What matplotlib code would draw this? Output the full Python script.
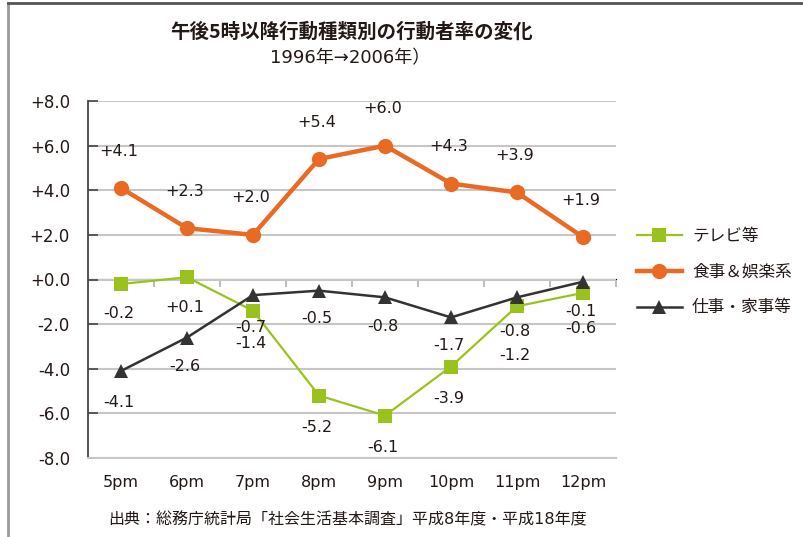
import matplotlib
matplotlib.use("Agg")
import matplotlib.pyplot as plt
from matplotlib.lines import Line2D

plt.rcParams['font.family'] = ['Noto Sans CJK JP', 'DejaVu Sans']
NUM_FONT = ['DejaVu Sans', 'Noto Sans CJK JP']

# --- data -------------------------------------------------------------
hours = ["5pm", "6pm", "7pm", "8pm", "9pm", "10pm", "11pm", "12pm"]
tv = [-0.2, 0.1, -1.4, -5.2, -6.1, -3.9, -1.2, -0.6]
meals_leisure = [4.1, 2.3, 2.0, 5.4, 6.0, 4.3, 3.9, 1.9]
work_house = [-4.1, -2.6, -0.7, -0.5, -0.8, -1.7, -0.8, -0.1]
series_names = ["テレビ等", "食事＆娯楽系", "仕事・家事等"]
y_ticks = [-8, -6, -4, -2, 0, 2, 4, 6, 8]

title = "午後5時以降行動種類別の行動者率の変化"
subtitle = "1996年→2006年）"
source = "出典：総務庁統計局「社会生活基本調査」平成8年度・平成18年度"

# --- styles -----------------------------------------------------------
TXT = "#231815"
GREEN = "#99c31c"
ORANGE = "#ea6a24"
DARK = "#333333"
GRID = "#c6c6c6"

W, H = 804, 537
fig = plt.figure(figsize=(W / 100, H / 100), dpi=100)
fig.patch.set_facecolor("white")

ax = fig.add_axes([88 / W, 1 - 458 / H, (616 - 88) / W, (458 - 101) / H])
x = list(range(len(hours)))

ax.set_xlim(-0.5, len(hours) - 0.5)
ax.set_ylim(-8, 8)

# gridlines / spines
ax.set_yticks(y_ticks)
ax.set_yticklabels([f"{v:+.1f}" for v in y_ticks], color=TXT, fontsize=12,
                   family=NUM_FONT)
ax.yaxis.grid(True, color=GRID, linewidth=1.5)
ax.set_axisbelow(True)
for s in ("top", "right"):
    ax.spines[s].set_visible(False)
ax.spines["left"].set_color("#444444")
ax.spines["left"].set_linewidth(1.3)
ax.spines["bottom"].set_color(GRID)
ax.spines["bottom"].set_linewidth(1.5)
ax.tick_params(axis="y", direction="in", length=7, width=1.2, color="#444444", pad=13)

ax.set_xticks(x)
ax.set_xticklabels(hours, color=TXT, fontsize=11.5, family=NUM_FONT)
ax.tick_params(axis="x", length=0, pad=12)

# category divider ticks on the zero line
zero_axis = ax.secondary_xaxis(0.5)
zero_axis.set_xticks([i + 0.5 for i in x])
zero_axis.set_xticklabels([])
zero_axis.tick_params(direction="in", length=6, width=1.2, color="#b0b0b0")
zero_axis.spines["bottom"].set_visible(False)

# series
ax.plot(x, tv, color=GREEN, linewidth=1.6, marker="s", markersize=9.5,
        markeredgewidth=0, label=series_names[0], zorder=3)
ax.plot(x, meals_leisure, color=ORANGE, linewidth=3.2, marker="o", markersize=11,
        markeredgewidth=0, label=series_names[1], zorder=4)
ax.plot(x, work_house, color=DARK, linewidth=1.8, marker="^", markersize=10.5,
        markeredgewidth=0, label=series_names[2], zorder=5)

# value labels (offsets in pixels)
px = 0.72
def label(xs, ys, offsets):
    for xi, yi, off in zip(xs, ys, offsets):
        ax.annotate(f"{yi:+.1f}", (xi, yi), xytext=(-2 * px, off * px),
                    textcoords="offset points", ha="center", va="center",
                    fontsize=11.5, color=TXT, family=NUM_FONT, zorder=6)

label(x, meals_leisure, [37] * 8)
label(x, tv, [-30, -30, -33, -32, -32, -32, -49, -36])
label(x, work_house, [-32, -29, -32, -28, -29, -28, -34, -30])

# legend
ax.legend(loc="upper left", bbox_to_anchor=(637 / W, 1 - 228 / H),
          bbox_transform=fig.transFigure, frameon=False, fontsize=12,
          handlelength=2.7, handletextpad=0.6, labelspacing=1.12,
          borderpad=0, borderaxespad=0, numpoints=1, labelcolor=TXT)

# titles and source note
fig.text(352 / W, 1 - 32 / H, title, ha="center", va="center",
         fontsize=14, fontweight="bold", color=TXT)
fig.text(350 / W, 1 - 58 / H, subtitle, ha="center", va="center",
         fontsize=13, color=TXT, family=NUM_FONT)
fig.text(108 / W, 1 - 520 / H, source, ha="left", va="center",
         fontsize=11.5, color=TXT, family=NUM_FONT)

# frame lines
fig.add_artist(Line2D([8 / W, 8 / W], [0, 1 - 3 / H], transform=fig.transFigure,
                      color="#9a9a9a", linewidth=2))
fig.add_artist(Line2D([8 / W, 1], [1 - 3 / H, 1 - 3 / H], transform=fig.transFigure,
                      color="#555555", linewidth=2))

fig.savefig("out.png", dpi=100, facecolor="white")
